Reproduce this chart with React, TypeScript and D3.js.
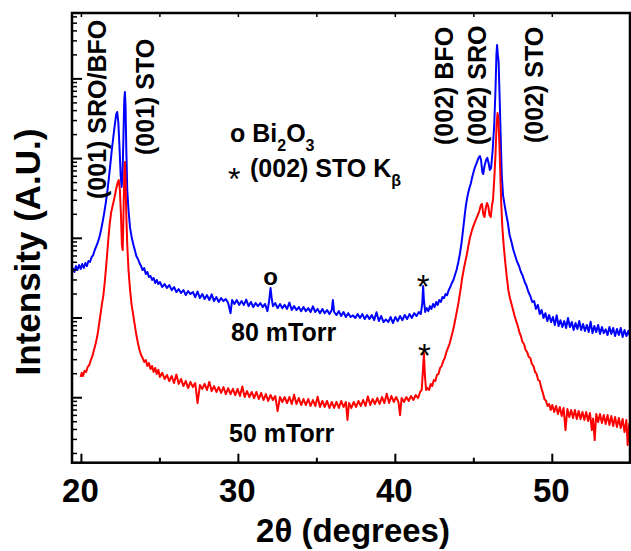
import React from "react";
import * as d3 from "d3";

// 2θ (degrees), intensity (a.u.)
const scan80mTorr: [number, number][] = [
[19.45,424],[19.55,378],[19.65,449],[19.75,400],[19.85,462],[19.95,412],[20.05,476],[20.15,424],[20.25,490],[20.35,449],[20.45,519],[20.55,505],[20.65,582],[20.75,617],[20.85,713],[20.95,800],[21.05,898],[21.15,1040],[21.25,1270],[21.35,1600],[21.45,2070],[21.55,2770],[21.65,3810],[21.75,5710],[21.85,8800],[21.95,13600],[22.05,19800],[22.15,28800],[22.22,36200],[22.28,38500],[22.35,28800],[22.42,14800],[22.5,6220],[22.56,4400],[22.62,6220],[22.68,19800],[22.73,54300],[22.77,68500],[22.81,47100],[22.86,12800],[22.92,4040],[23.0,2260],[23.1,1350],[23.2,1040],[23.3,848],[23.4,713],[23.5,600],[23.6,550],[23.7,490],[23.8,449],[23.9,400],[24.0,424],[24.1,357],[24.2,378],[24.3,327],[24.4,337],[24.5,300],[24.6,318],[24.7,275],[24.8,300],[24.9,267],[25.0,283],[25.15,245],[25.3,267],[25.45,238],[25.6,259],[25.75,224],[25.9,245],[26.05,212],[26.2,230],[26.35,206],[26.5,224],[26.65,194],[26.8,218],[26.95,200],[27.1,212],[27.25,183],[27.4,215],[27.55,178],[27.7,200],[27.85,173],[28.0,194],[28.15,168],[28.3,198],[28.45,163],[28.6,183],[28.75,159],[28.9,178],[29.05,163],[29.2,173],[29.35,154],[29.5,115],[29.6,168],[29.75,150],[29.9,168],[30.05,146],[30.2,163],[30.35,146],[30.5,170],[30.65,141],[30.8,159],[30.95,137],[31.1,154],[31.25,141],[31.4,154],[31.55,137],[31.7,150],[31.85,122],[31.95,159],[32.05,238],[32.12,178],[32.2,141],[32.35,154],[32.5,133],[32.65,150],[32.8,133],[32.95,146],[33.1,130],[33.25,156],[33.4,126],[33.55,141],[33.7,126],[33.85,137],[34.0,122],[34.15,137],[34.3,122],[34.45,133],[34.6,119],[34.75,140],[34.9,119],[35.05,130],[35.2,115],[35.35,130],[35.5,115],[35.65,126],[35.8,112],[35.95,126],[36.02,168],[36.1,119],[36.25,109],[36.4,122],[36.55,106],[36.7,119],[36.85,103],[37.0,115],[37.15,103],[37.3,108],[37.45,100],[37.6,112],[37.75,100],[37.9,112],[38.05,97],[38.2,109],[38.35,97],[38.5,109],[38.65,94],[38.8,118],[38.95,91.5],[39.1,106],[39.25,89],[39.4,96],[39.55,89],[39.7,103],[39.85,86.4],[40.0,103],[40.15,91.5],[40.3,106],[40.45,94],[40.6,109],[40.75,97],[40.9,112],[41.05,100],[41.2,115],[41.35,106],[41.5,119],[41.62,112],[41.72,154],[41.77,252],[41.82,168],[41.9,119],[42.0,133],[42.1,122],[42.2,141],[42.3,130],[42.4,150],[42.5,137],[42.6,159],[42.7,146],[42.8,168],[42.9,159],[43.0,183],[43.1,178],[43.2,200],[43.3,194],[43.4,224],[43.5,245],[43.6,275],[43.7,300],[43.8,347],[43.9,400],[44.0,490],[44.1,617],[44.2,824],[44.3,1200],[44.4,1800],[44.5,2620],[44.6,3400],[44.7,4160],[44.8,4800],[44.9,5880],[45.0,6980],[45.1,8070],[45.2,9060],[45.3,10200],[45.38,10800],[45.46,9600],[45.54,6790],[45.6,6410],[45.68,8070],[45.78,9600],[45.86,10200],[45.94,8800],[46.02,7190],[46.1,7620],[46.2,12800],[46.3,26400],[46.38,72600],[46.44,200000],[46.48,266000],[46.53,200000],[46.58,163000],[46.64,62800],[46.7,22900],[46.78,6220],[46.86,3490],[46.96,2620],[47.06,2020],[47.16,1600],[47.28,1100],[47.4,898],[47.52,713],[47.64,600],[47.76,505],[47.88,449],[48.0,378],[48.12,337],[48.24,283],[48.36,252],[48.48,212],[48.6,189],[48.72,159],[48.84,163],[48.96,130],[49.08,146],[49.2,112],[49.32,126],[49.44,100],[49.56,115],[49.68,91.5],[49.8,109],[49.92,89],[50.04,103],[50.16,81.6],[50.28,108],[50.4,79.3],[50.52,94],[50.64,77],[50.76,91.5],[50.88,74.8],[51.0,100],[51.12,77],[51.24,89],[51.36,70.6],[51.48,86.4],[51.6,72.7],[51.72,91.5],[51.84,70.6],[51.96,84],[52.08,68.6],[52.2,81.6],[52.32,66.6],[52.44,90],[52.56,64.7],[52.68,79.3],[52.8,66.6],[52.92,81.6],[53.04,62.9],[53.16,77],[53.28,64.7],[53.4,72],[53.52,61.1],[53.64,77],[53.76,62.9],[53.88,74.8],[54.0,59.4],[54.12,72.7],[54.24,61.1],[54.36,74.8],[54.48,57.7],[54.6,70.6],[54.72,59.4],[54.84,68.6],[54.96,57.7]
];

const scan50mTorr: [number, number][] = [
[19.95,18.2],[20.02,20.5],[20.1,18.7],[20.2,21.7],[20.3,21.1],[20.4,24.3],[20.5,25.7],[20.6,29.7],[20.7,33.3],[20.8,39.7],[20.9,47.2],[21.0,57.7],[21.1,77],[21.2,106],[21.3,146],[21.4,194],[21.5,300],[21.6,505],[21.7,898],[21.8,1510],[21.9,2140],[22.0,2620],[22.1,3210],[22.2,4040],[22.3,4940],[22.38,5380],[22.45,4040],[22.52,1960],[22.58,824],[22.63,713],[22.68,1960],[22.73,6220],[22.77,9060],[22.81,5380],[22.86,1960],[22.92,824],[23.0,400],[23.1,224],[23.2,146],[23.3,109],[23.4,81.6],[23.5,61.1],[23.6,48.6],[23.7,39.7],[23.8,34.4],[23.9,31.5],[24.0,28.1],[24.1,29.7],[24.2,25],[24.3,27.2],[24.4,22.9],[24.5,25],[24.6,21.1],[24.7,23.6],[24.8,19.9],[24.9,22.4],[25.0,18.2],[25.15,20.5],[25.3,17.2],[25.45,19.3],[25.6,16.2],[25.75,18.7],[25.9,15.3],[26.05,19.5],[26.2,14.9],[26.35,17.2],[26.5,14.0],[26.65,16.2],[26.8,13.2],[26.95,15.8],[27.1,13.6],[27.25,15.3],[27.4,8.58],[27.55,14.4],[27.7,12.9],[27.85,14.9],[28.0,12.5],[28.15,15.8],[28.3,12.1],[28.45,14.0],[28.6,11.8],[28.75,13.6],[28.9,11.5],[29.05,13.6],[29.2,11.1],[29.35,13.2],[29.5,11.1],[29.65,12.9],[29.8,10.8],[29.95,12.9],[30.1,10.5],[30.25,13.8],[30.4,10.2],[30.55,12.1],[30.7,10.2],[30.85,11.8],[31.0,9.91],[31.15,11.8],[31.3,9.63],[31.45,11.5],[31.6,9.36],[31.75,11.1],[31.9,9.1],[32.05,10.8],[32.2,9.36],[32.35,10.5],[32.5,6.8],[32.65,10.2],[32.8,8.84],[32.95,10.2],[33.1,8.58],[33.25,10.2],[33.4,8.34],[33.55,10.9],[33.7,8.34],[33.85,9.91],[34.0,8.1],[34.15,9.63],[34.3,8.1],[34.45,9.63],[34.6,7.87],[34.75,9.36],[34.9,7.87],[35.05,10.3],[35.2,7.65],[35.35,9.1],[35.5,7.65],[35.65,9.1],[35.8,7.43],[35.95,8.84],[36.1,7.43],[36.25,8.84],[36.4,7.43],[36.55,9.1],[36.7,7.65],[36.85,8.84],[36.95,5.25],[37.05,8.58],[37.2,7.43],[37.35,8.84],[37.5,7.65],[37.65,9.1],[37.8,7.87],[37.95,9.36],[38.1,7.87],[38.25,10.4],[38.4,8.1],[38.55,9.63],[38.7,8.34],[38.85,9.91],[39.0,8.34],[39.15,10.2],[39.3,8.58],[39.45,11.2],[39.6,8.58],[39.75,10.5],[39.9,8.84],[40.05,10.2],[40.2,8.84],[40.3,6.06],[40.4,9.91],[40.55,8.84],[40.7,10.2],[40.85,9.1],[41.0,10.5],[41.15,9.36],[41.3,10.8],[41.45,9.91],[41.58,11.8],[41.68,12.5],[41.76,22.4],[41.82,36.3],[41.88,19.3],[41.96,12.5],[42.05,13.2],[42.15,12.5],[42.25,14.9],[42.35,14.0],[42.45,16.7],[42.55,16.2],[42.65,19.3],[42.75,19.9],[42.85,23.6],[42.95,25],[43.05,28.8],[43.15,31.5],[43.25,37.3],[43.35,42],[43.45,47.2],[43.55,56.1],[43.65,66.6],[43.75,81.6],[43.85,103],[43.95,130],[44.05,168],[44.15,224],[44.25,309],[44.35,400],[44.45,505],[44.55,617],[44.65,800],[44.75,1010],[44.85,1200],[44.95,1390],[45.05,1560],[45.15,1750],[45.25,1960],[45.35,2200],[45.45,2620],[45.52,2700],[45.6,2020],[45.68,1850],[45.76,2400],[45.84,2770],[45.92,2540],[46.0,1960],[46.08,1850],[46.16,2620],[46.22,3020],[46.3,5380],[46.38,11100],[46.45,26400],[46.51,37300],[46.56,32300],[46.62,17100],[46.68,7190],[46.75,2620],[46.82,1350],[46.9,824],[47.0,505],[47.1,327],[47.2,224],[47.3,178],[47.4,150],[47.5,126],[47.6,106],[47.7,91.5],[47.8,79.3],[47.9,66.6],[48.0,59.4],[48.1,50],[48.2,47.2],[48.3,39.7],[48.4,37.3],[48.5,32.4],[48.6,31.5],[48.7,26.5],[48.8,25],[48.9,21.1],[49.0,19.9],[49.1,16.7],[49.2,16.2],[49.3,13.2],[49.4,11.5],[49.5,9.63],[49.6,9.1],[49.7,7.87],[49.8,8.34],[49.9,7.0],[50.0,8.1],[50.12,6.62],[50.24,7.87],[50.36,6.25],[50.48,7.65],[50.6,5.89],[50.72,7.43],[50.84,3.93],[50.96,7.22],[51.08,5.72],[51.2,7.0],[51.32,5.56],[51.44,7.0],[51.56,5.4],[51.68,6.8],[51.8,5.4],[51.92,6.62],[52.04,5.25],[52.16,6.62],[52.28,5.1],[52.4,6.43],[52.52,3.93],[52.6,5.5],[52.7,2.94],[52.8,6.25],[52.92,4.95],[53.04,6.25],[53.16,4.81],[53.28,6.06],[53.4,4.67],[53.52,6.06],[53.64,4.54],[53.76,5.89],[53.88,4.41],[54.0,5.72],[54.12,4.28],[54.24,5.56],[54.36,4.16],[54.48,5.4],[54.6,3.7],[54.72,5.25],[54.8,2.55],[54.9,4.67],[54.96,3.93]
];

const xTickLabels = [20, 30, 40, 50];
const xMinorTicks = [25, 35, 45];
const xTopTicks = [20, 25, 30, 35, 40, 45, 50];
const yDecades = [10, 100, 1000, 10000, 100000];

// peak annotations: [label, 2θ of text baseline, y of text start]
const peakLabels: [string, number, number][] = [
  ["(001) SRO/BFO", 21.55, 199],
  ["(001) STO", 24.6, 155],
  ["(002) BFO", 43.7, 145],
  ["(002) SRO", 45.75, 145],
  ["(002) STO", 49.4, 143],
];
const starMarks2Theta = [41.78, 41.86];
const bi2o3Mark2Theta = 32.05;

const W = 631, H = 551;
const left = 72, right = 630, top = 13, bottom = 462.7;
const FONT = "'Liberation Sans', Arial, Helvetica, sans-serif";

export default function App() {
  const x = d3.scaleLinear().domain([19.4, 54.95]).range([left, right]);
  const y = d3.scaleLog().domain([1.53, 671000]).range([bottom, top]);
  const line = d3.line<[number, number]>().x(d => x(d[0])).y(d => y(d[1]));

  const minorY: number[] = [];
  for (let e = 0; e <= 5; e++) {
    for (let m = 2; m <= 9; m++) {
      const v = m * Math.pow(10, e);
      if (v > 1.53 && v < 671000) minorY.push(v);
    }
  }

  return (
    <svg width={W} height={H} style={{ position: "absolute", left: 0, top: 0, background: "#fff" }}
      fontFamily={FONT}>
      <defs>
        <clipPath id="plot"><rect x={left} y={top} width={right - left} height={bottom - top} /></clipPath>
      </defs>
      <g clipPath="url(#plot)" fill="none" strokeWidth={2} strokeLinejoin="round">
        <path d={line(scan80mTorr) || ""} stroke="#0000ff" />
        <path d={line(scan50mTorr) || ""} stroke="#ff0000" />
      </g>
      <rect x={left} y={top} width={right - left} height={bottom - top} fill="none" stroke="#000" strokeWidth={2.5} />
      {xTickLabels.map(v => (
        <line key={"xb" + v} x1={x(v)} x2={x(v)} y1={bottom} y2={bottom - 9} stroke="#000" strokeWidth={2} />
      ))}
      {xMinorTicks.map(v => (
        <line key={"xm" + v} x1={x(v)} x2={x(v)} y1={bottom} y2={bottom - 5} stroke="#000" strokeWidth={2} />
      ))}
      {xTopTicks.map(v => (
        <line key={"xt" + v} x1={x(v)} x2={x(v)} y1={top} y2={top + 4} stroke="#000" strokeWidth={1.5} />
      ))}
      {yDecades.map(v => (
        <line key={"yd" + v} x1={left} x2={left + 10} y1={y(v)} y2={y(v)} stroke="#000" strokeWidth={2} />
      ))}
      {minorY.map(v => (
        <line key={"ym" + v} x1={left} x2={left + 5} y1={y(v)} y2={y(v)} stroke="#000" strokeWidth={1.5} />
      ))}
      {xTickLabels.map(v => (
        <text key={"xl" + v} x={x(v) - 1} y={502} fontSize={33} fontWeight="bold" textAnchor="middle">{v}</text>
      ))}
      <text x={353} y={542} fontSize={33} fontWeight="bold" textAnchor="middle">2θ (degrees)</text>
      <text transform="translate(40,252) rotate(-90)" fontSize={35} fontWeight="bold" textAnchor="middle">Intensity (A.U.)</text>
      {peakLabels.map(([t, xv, ys]) => (
        <text key={t} transform={`translate(${x(xv)},${ys}) rotate(-90)`} fontSize={25} fontWeight="bold">{t}</text>
      ))}
      <text x={230} y={142} fontSize={25} fontWeight="bold">
        o Bi<tspan fontSize={16} dy={9}>2</tspan><tspan dy={-9}>O</tspan><tspan fontSize={16} dy={9}>3</tspan>
      </text>
      <text x={228} y={190} fontSize={32}>*</text>
      <text x={250} y={177} fontSize={25} fontWeight="bold">
        (002) STO K<tspan fontSize={16} dy={9}>β</tspan>
      </text>
      <text x={231} y={341} fontSize={25} fontWeight="bold">80 mTorr</text>
      <text x={229} y={442} fontSize={25} fontWeight="bold">50 mTorr</text>
      <text x={x(bi2o3Mark2Theta)} y={285} fontSize={24} fontWeight="bold" textAnchor="middle">o</text>
      {starMarks2Theta.map((xv, i) => (
        <text key={"s" + i} x={x(xv)} y={i === 0 ? 298 : 367} fontSize={33} textAnchor="middle">*</text>
      ))}
    </svg>
  );
}
